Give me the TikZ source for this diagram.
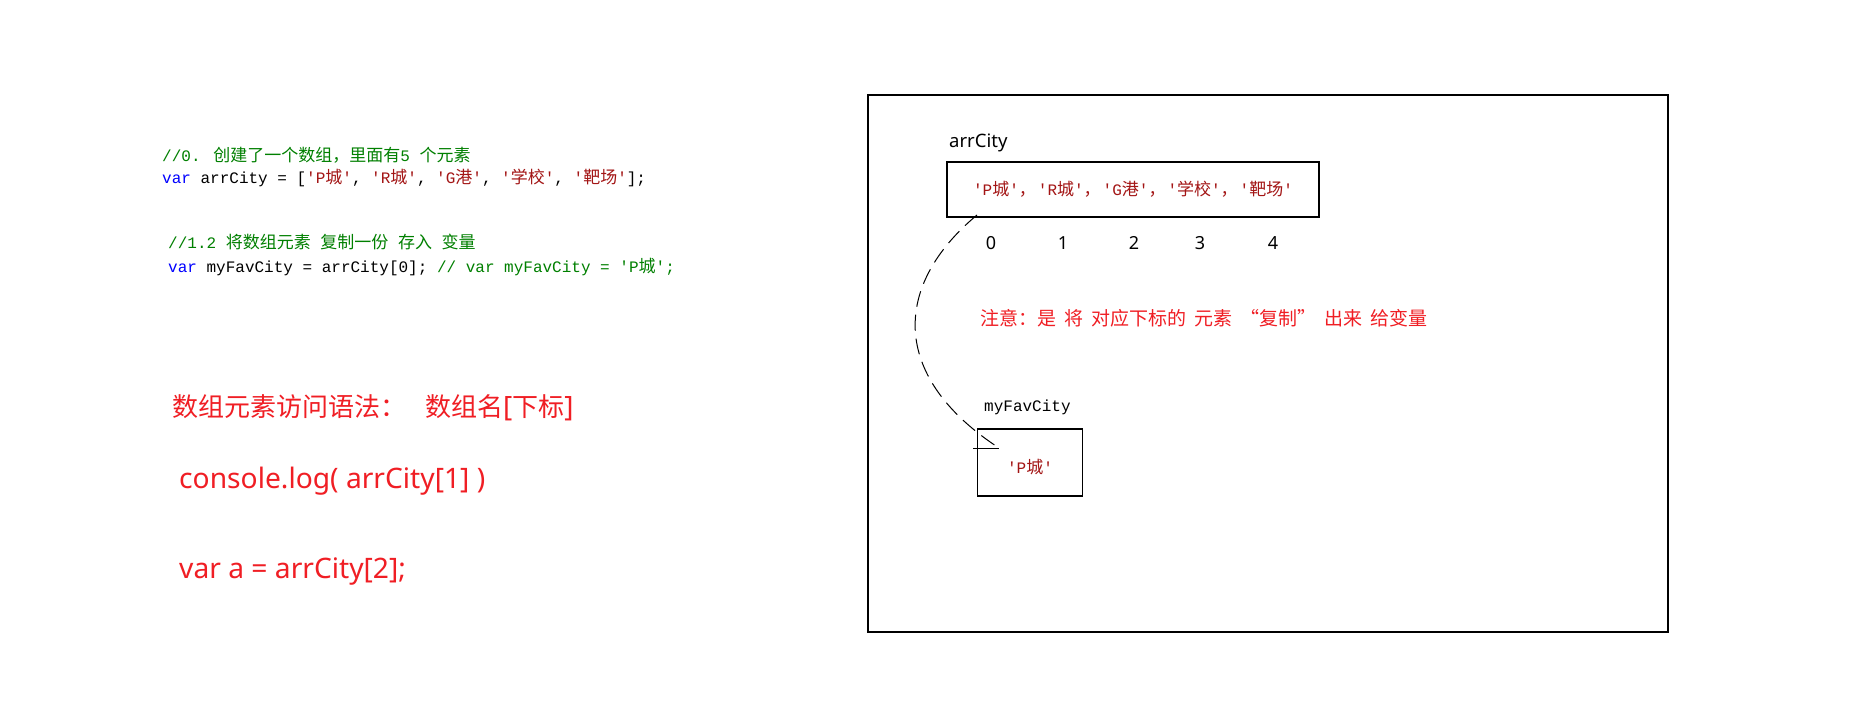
\documentclass[tikz,border=0pt]{standalone}
\usepackage{fontspec}
\setmainfont{Noto Sans CJK SC}
\newfontfamily\zhfont{Noto Sans CJK SC}
\newfontfamily\uifont{Noto Sans}
\newfontfamily\codefont[Ligatures=TeXOff]{Liberation Mono}
\usetikzlibrary{positioning}

\definecolor{cmtgreen}{RGB}{0,128,0}
\definecolor{kwblue}{RGB}{0,0,255}
\definecolor{strred}{RGB}{163,21,21}
\definecolor{hintred}{RGB}{240,30,36}

\newcommand{\zh}[1]{{\zhfont\fontsize{17}{19}\selectfont #1}}
\newcommand{\kwd}[1]{\textcolor{kwblue}{#1}}
\newcommand{\strv}[1]{\textcolor{strred}{#1}}
\newcommand{\ui}[1]{{\uifont\fontsize{28}{30}\selectfont #1}}
\newcommand{\zhsep}{\zh{，}\hspace{2pt}}
\newcommand{\gap}{\hspace{8pt}}

\tikzset{
  code/.style={anchor=base west, inner sep=0, font=\codefont\fontsize{16}{18}\selectfont},
  bigred/.style={anchor=base west, inner sep=0, text=hintred, font=\zhfont\fontsize{26}{30}\selectfont},
  redline/.style={bigred, font=\uifont\fontsize{28.2}{30}\selectfont},
  tag/.style={anchor=base west, inner sep=0, font=\uifont\fontsize{18.5}{20}\selectfont},
  idx/.style={inner sep=0, font=\uifont\fontsize{18}{20}\selectfont},
  cell/.style={draw, line width=1.3pt, inner sep=0, font=\codefont\fontsize{16}{18}\selectfont, text=strred},
  copyline/.style={line width=1pt, dash pattern=on 16pt off 8pt}
}

\begin{document}
\begin{tikzpicture}[x=1pt, y=-1pt]
\path[fill=white] (0,0) rectangle (1872,720);
\useasboundingbox (0,0) rectangle (1872,720);

% code on the left
\node[code, text=cmtgreen] (cmt0) at (162,161) {//0. \zh{创建了一个数组，里面有}5 \zh{个元素}};
\node[code] (decl) at (162,183) {\kwd{var} arrCity = [\strv{'P\zh{城}'}, \strv{'R\zh{城}'}, \strv{'G\zh{港}'}, \strv{'\zh{学校}'}, \strv{'\zh{靶场}'}];};
\node[code, text=cmtgreen] (cmt1) at (168,248) {//1.2 \zh{将数组元素} \zh{复制一份} \zh{存入}~\zh{变量}};
\node[code] (copy) at (168,272) {\kwd{var} myFavCity = arrCity[0]; \textcolor{cmtgreen}{// var myFavCity = 'P\zh{城}';}};

\node[bigred] (syntax) at (172,416) {数组元素访问语法：\hspace{19pt}数组名\ui{[}下标\ui{]}};
\node[redline] (log) at (179,488) {console.log( arrCity[1] )};
\node[redline] (geta) at (179,578) {var a = arrCity[2];};

% memory frame
\draw[line width=1.3pt] (868,95) rectangle (1668,632);

\node[tag] (arrname) at (949,147) {arrCity};
\node[cell, minimum width=372pt, minimum height=55pt] (arr) at (1133,189.5)
  {'P\zh{城}'\zhsep'R\zh{城}'\zhsep'G\zh{港}'\zhsep'\zh{学校}'\zhsep'\zh{靶场}'};
\foreach \i/\x in {0/991,1/1063,2/1134,3/1200,4/1273}
  \node[idx] (i\i) at (\x,243) {\i};

\node[tag, text=hintred, font=\zhfont\fontsize{19}{22}\selectfont] (hint) at (980,325)
  {注意：是\gap 将\gap 对应下标的\gap 元素\gap “复制”\gap 出来\gap 给变量};

\node[code] (favname) at (984,411) {myFavCity};
\node[cell, minimum width=105pt, minimum height=67pt, text height=21pt, text depth=0pt] (fav) at (1030,462.5) {'P\zh{城}'};

% copy of element 0
\coordinate (cs) at (977,215);
\coordinate (ce) at (996,446);
\draw[copyline] (cs) .. controls (893,285) and (890,375) .. (ce);
\draw[line width=1pt] (ce) ++(-23,2) -- ++(26,0);

\end{tikzpicture}
\end{document}
